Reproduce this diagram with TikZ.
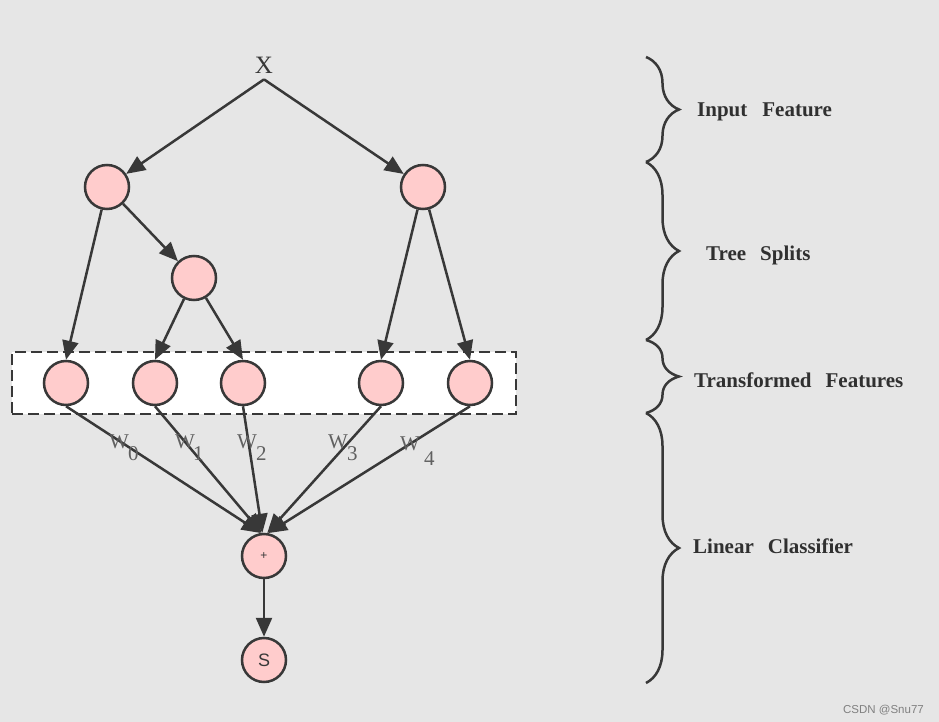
\documentclass[tikz,border=0pt]{standalone}
\usepackage{fontspec}
\setmainfont{Liberation Serif}
\setsansfont{Liberation Sans}
\usetikzlibrary{arrows.meta,decorations.pathreplacing}
\definecolor{bg}{HTML}{E6E6E6}
\definecolor{ink}{HTML}{383838}
\definecolor{pinkfill}{HTML}{FFCCCC}
\begin{document}
\begin{tikzpicture}[x=1pt,y=-1pt,
  neuron/.style={circle, draw=ink, fill=pinkfill, line width=2.5pt, minimum size=44pt, inner sep=0pt},
  conn/.style={draw=ink, line width=2.5pt, -{Triangle[length=19pt,width=16pt]}},
  lbl/.style={font=\fontsize{21}{24}\selectfont\bfseries, text=ink!85!black, anchor=base west, inner sep=0pt},
  wlab/.style={font=\fontsize{21}{22}\selectfont, text=ink!80, anchor=base west, inner sep=0pt},
  bracestyle/.style={decorate, decoration={brace, amplitude=33pt}, draw=ink, line width=2.5pt}
]
\fill[bg] (0,0) rectangle (939,722);
\useasboundingbox (0,0) rectangle (939,722);

% dashed box of transformed features
\node[draw=ink, dash pattern=on 11pt off 5pt, fill=white, line width=2.4pt,
      minimum width=504pt, minimum height=62pt, inner sep=0pt] (box) at (264,383) {};

% input
\node[font=\fontsize{25}{26}\selectfont, text=ink, inner xsep=1pt, inner ysep=6pt] (X) at (264,65) {X};

% tree nodes
\node[neuron] (A) at (107,187) {};
\node[neuron] (B) at (423,187) {};
\node[neuron] (C) at (194,278) {};
\node[neuron] (T0) at (66,383) {};
\node[neuron] (T1) at (155,383) {};
\node[neuron] (T2) at (243,383) {};
\node[neuron] (T3) at (381,383) {};
\node[neuron] (T4) at (470,383) {};
\node[neuron, font=\sffamily\fontsize{12}{12}\selectfont, text=ink] (plus) at (264,556) {+};
\node[neuron, font=\sffamily\fontsize{18}{18}\selectfont, text=ink] (S) at (264,660) {S};

% connectors
\draw[conn] (X.south) -- (A);
\draw[conn] (X.south) -- (B);
\draw[conn] (A) -- (T0.north);
\draw[conn] (A) -- (C);
\draw[conn] (C) -- (T1.north);
\draw[conn] (C) -- (T2.north);
\draw[conn] (B) -- (T3.north);
\draw[conn] (B) -- (T4.north);
\draw[conn] (T0.south) -- (plus.98);
\draw[conn] (T1.south) -- (plus.96);
\draw[conn] (T2.south) -- (plus.94);
\draw[conn] (T3.south) -- (plus.82);
\draw[conn] (T4.south) -- (plus.80);
\draw[conn] (plus) -- (S);

% weights
\node[wlab] (w0) at (109,448) {W\kern-1pt\raisebox{-12pt}{0}};
\node[wlab] (w1) at (175,448) {W\kern-2pt\raisebox{-12pt}{1}};
\node[wlab] (w2) at (237,448) {W\kern-1pt\raisebox{-12pt}{2}};
\node[wlab] (w3) at (328,448) {W\kern-1pt\raisebox{-12pt}{3}};
\node[wlab] (w4) at (400,450) {W\kern4pt\raisebox{-15pt}{4}};

% braces
\draw[bracestyle] (646,57) -- (646,162);
\draw[bracestyle] (646,162) -- (646,340);
\draw[bracestyle] (646,340) -- (646,413);
\draw[bracestyle] (646,413) -- (646,683);

% brace labels
\node[lbl] (l1) at (697,117) {Input\hspace{15pt}Feature};
\node[lbl] (l2) at (706,260) {Tree\hspace{14pt}Splits};
\node[lbl] (l3) at (694,387) {Transformed\hspace{14pt}Features};
\node[lbl] (l4) at (693,553) {Linear\hspace{14pt}Classifier};

% watermark
\node[font=\sffamily\fontsize{11.5}{12}\selectfont, text=black!50, anchor=base east, inner sep=0pt] (wm) at (924,713) {CSDN @Snu77};
\end{tikzpicture}
\end{document}
